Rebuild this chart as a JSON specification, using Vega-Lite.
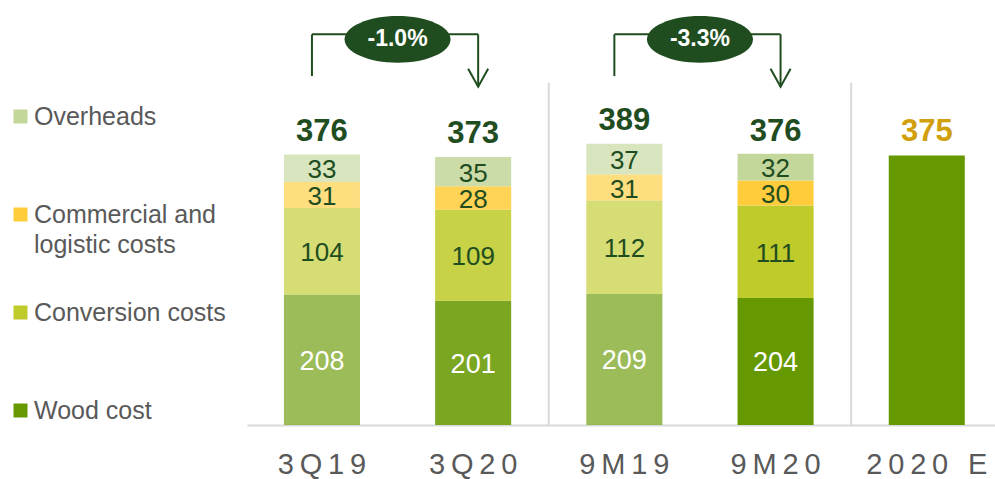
{
  "$schema": "https://vega.github.io/schema/vega-lite/v6.json",
  "width": 748,
  "height": 399,
  "autosize": {"type": "none"},
  "padding": {"left": 247, "top": 26, "right": 0, "bottom": 54},
  "config": {"view": {"stroke": null}, "font": "Liberation Sans"},
  "datasets": {
    "costs": [
      {"period": "3Q19", "cost": "Wood cost", "value": 208, "stackOrder": 1},
      {"period": "3Q19", "cost": "Conversion costs", "value": 104, "stackOrder": 2},
      {"period": "3Q19", "cost": "Commercial and logistic costs", "value": 31, "stackOrder": 3},
      {"period": "3Q19", "cost": "Overheads", "value": 33, "stackOrder": 4},
      {"period": "3Q20", "cost": "Wood cost", "value": 201, "stackOrder": 1},
      {"period": "3Q20", "cost": "Conversion costs", "value": 109, "stackOrder": 2},
      {"period": "3Q20", "cost": "Commercial and logistic costs", "value": 28, "stackOrder": 3},
      {"period": "3Q20", "cost": "Overheads", "value": 35, "stackOrder": 4},
      {"period": "9M19", "cost": "Wood cost", "value": 209, "stackOrder": 1},
      {"period": "9M19", "cost": "Conversion costs", "value": 112, "stackOrder": 2},
      {"period": "9M19", "cost": "Commercial and logistic costs", "value": 31, "stackOrder": 3},
      {"period": "9M19", "cost": "Overheads", "value": 37, "stackOrder": 4},
      {"period": "9M20", "cost": "Wood cost", "value": 204, "stackOrder": 1},
      {"period": "9M20", "cost": "Conversion costs", "value": 111, "stackOrder": 2},
      {"period": "9M20", "cost": "Commercial and logistic costs", "value": 30, "stackOrder": 3},
      {"period": "9M20", "cost": "Overheads", "value": 32, "stackOrder": 4},
      {"period": "2020 E", "cost": "Total", "value": 375, "stackOrder": 1}
    ],
    "totals": [
      {"period": "3Q19", "total": 376},
      {"period": "3Q20", "total": 373},
      {"period": "9M19", "total": 389},
      {"period": "9M20", "total": 376},
      {"period": "2020 E", "total": 375}
    ],
    "changes": [
      {"from": "3Q19", "to": "3Q20", "change": "-1.0%"},
      {"from": "9M19", "to": "9M20", "change": "-3.3%"}
    ],
    "separators": [{"after": "3Q20"}, {"after": "9M20"}]
  },
  "layer": [
    {
      "data": {"name": "costs"},
      "mark": {"type": "bar"},
      "encoding": {
        "x": {
          "field": "period",
          "type": "nominal",
          "sort": ["3Q19", "3Q20", "9M19", "9M20", "2020 E"],
          "scale": {"domain": ["3Q19", "3Q20", "9M19", "9M20", "2020 E"], "paddingInner": 0.497, "paddingOuter": 0.222, "align": 0.55},
          "axis": {"title": null, "ticks": false, "domainColor": "#d9d9d9", "domainWidth": 2, "labelFontSize": 29, "labelColor": "#595959", "labelPadding": 25, "labelFont": "Liberation Sans", "labelAngle": 0, "labelExpr": "join(split(datum.label, ''), '\u2009')"}
        },
        "y": {
          "field": "value",
          "type": "quantitative",
          "stack": "zero",
          "scale": {"domain": [52, 530], "zero": false, "clamp": true, "nice": false},
          "axis": null
        },
        "color": {
          "field": "cost",
          "type": "nominal",
          "scale": {
            "domain": ["Overheads", "Commercial and logistic costs", "Conversion costs", "Wood cost", "Total"],
            "range": ["#c4d79b", "#ffcd3c", "#bfcb2a", "#669900", "#669900"]
          },
          "legend": {
            "orient": "none",
            "legendX": -239,
            "legendY": 78,
            "title": null,
            "values": ["Overheads", "Commercial and logistic costs", "Conversion costs", "Wood cost"],
            "symbolType": "square",
            "symbolSize": 196,
            "symbolStrokeWidth": 0,
            "labelFontSize": 25,
            "labelColor": "#595959",
            "labelFont": "Liberation Sans",
            "labelOffset": 1,
            "labelLimit": 400,
            "rowPadding": 42,
            "padding": 0,
            "labelExpr": "datum.label == 'Commercial and logistic costs' ? ['Commercial and', 'logistic costs'] : [datum.label, '']",
            "encode": {"labels": {"update": {"lineHeight": {"value": 30}}}}
          }
        },
        "opacity": {
          "field": "period",
          "type": "nominal",
          "scale": {"type": "ordinal", "domain": ["3Q19", "3Q20", "9M19", "9M20", "2020 E"], "range": [0.655, 0.87, 0.655, 1, 1]},
          "legend": null
        },
        "order": {"field": "stackOrder", "type": "quantitative"}
      }
    },
    {
      "data": {"name": "costs"},
      "transform": [{"filter": "datum.cost != 'Total'"}],
      "mark": {"type": "text", "fontSize": 26, "baseline": "middle", "align": "center", "color": "#1f4d1f", "dy": 2},
      "encoding": {
        "x": {"field": "period", "type": "nominal", "scale": {"domain": ["3Q19", "3Q20", "9M19", "9M20", "2020 E"]}},
        "y": {"field": "value", "type": "quantitative", "stack": "zero", "bandPosition": 0.5},
        "detail": {"field": "cost"},
        "order": {"field": "stackOrder", "type": "quantitative"},
        "text": {"field": "value", "type": "quantitative", "condition": {"test": "datum.cost == 'Wood cost'", "value": ""}}
      }
    },
    {
      "data": {"name": "costs"},
      "transform": [{"filter": "datum.cost == 'Wood cost'"}],
      "mark": {"type": "text", "fontSize": 27, "baseline": "middle", "align": "center", "color": "#ffffff", "dy": -20},
      "encoding": {
        "x": {"field": "period", "type": "nominal", "scale": {"domain": ["3Q19", "3Q20", "9M19", "9M20", "2020 E"]}},
        "y": {"field": "value", "type": "quantitative", "stack": "zero", "bandPosition": 0.5},
        "detail": {"field": "cost"},
        "order": {"field": "stackOrder", "type": "quantitative"},
        "text": {"field": "value", "type": "quantitative"}
      }
    },
    {
      "data": {"name": "totals"},
      "mark": {"type": "text", "fontSize": 31, "fontWeight": "bold", "baseline": "alphabetic", "align": "center", "dy": -14},
      "encoding": {
        "x": {"field": "period", "type": "nominal", "scale": {"domain": ["3Q19", "3Q20", "9M19", "9M20", "2020 E"]}},
        "y": {"field": "total", "type": "quantitative"},
        "text": {"field": "total", "type": "quantitative"},
        "color": {"condition": {"test": "datum.period == '2020 E'", "value": "#d19f0c"}, "value": "#1f4d1f"}
      }
    },
    {
      "data": {"name": "separators"},
      "mark": {"type": "rule", "color": "#d9d9d9", "strokeWidth": 2, "xOffset": 75.6},
      "encoding": {
        "x": {"field": "after", "type": "nominal", "scale": {"domain": ["3Q19", "3Q20", "9M19", "9M20", "2020 E"]}},
        "y": {"datum": 52, "type": "quantitative"},
        "y2": {"datum": 462}
      }
    },
    {
      "data": {"name": "changes"},
      "mark": {"type": "rule", "color": "#1f4d1f", "strokeWidth": 2, "xOffset": -10, "x2Offset": 5},
      "encoding": {
        "x": {"field": "from", "type": "nominal", "scale": {"domain": ["3Q19", "3Q20", "9M19", "9M20", "2020 E"]}},
        "x2": {"field": "to"},
        "y": {"datum": 520, "type": "quantitative"}
      }
    },
    {
      "data": {"name": "changes"},
      "mark": {"type": "rule", "color": "#1f4d1f", "strokeWidth": 2, "xOffset": -10},
      "encoding": {
        "x": {"field": "from", "type": "nominal", "scale": {"domain": ["3Q19", "3Q20", "9M19", "9M20", "2020 E"]}},
        "y": {"datum": 470, "type": "quantitative"},
        "y2": {"datum": 520}
      }
    },
    {
      "data": {"name": "changes"},
      "mark": {"type": "rule", "color": "#1f4d1f", "strokeWidth": 2, "xOffset": 5},
      "encoding": {
        "x": {"field": "to", "type": "nominal", "scale": {"domain": ["3Q19", "3Q20", "9M19", "9M20", "2020 E"]}},
        "y": {"datum": 457, "type": "quantitative"},
        "y2": {"datum": 520}
      }
    },
    {
      "data": {"name": "changes"},
      "mark": {"type": "point", "shape": "M-1,-0.9L0,0.9L1,-0.9", "size": 400, "filled": false, "stroke": "#1f4d1f", "strokeWidth": 2, "opacity": 1, "xOffset": 5},
      "encoding": {
        "x": {"field": "to", "type": "nominal", "scale": {"domain": ["3Q19", "3Q20", "9M19", "9M20", "2020 E"]}},
        "y": {"datum": 468, "type": "quantitative"}
      }
    },
    {
      "data": {"name": "changes"},
      "mark": {"type": "point", "shape": "M-1,0A1,0.443,0,1,1,1,0A1,0.443,0,1,1,-1,0Z", "size": 11236, "filled": true, "color": "#1f4d1f", "opacity": 1, "strokeWidth": 0, "xOffset": 75.6},
      "encoding": {
        "x": {"field": "from", "type": "nominal", "scale": {"domain": ["3Q19", "3Q20", "9M19", "9M20", "2020 E"]}},
        "y": {"datum": 514, "type": "quantitative"}
      }
    },
    {
      "data": {"name": "changes"},
      "mark": {"type": "text", "fontSize": 23, "fontWeight": "bold", "color": "#ffffff", "baseline": "middle", "align": "center", "xOffset": 75.6},
      "encoding": {
        "x": {"field": "from", "type": "nominal", "scale": {"domain": ["3Q19", "3Q20", "9M19", "9M20", "2020 E"]}},
        "y": {"datum": 514, "type": "quantitative"},
        "text": {"field": "change"}
      }
    }
  ]
}
